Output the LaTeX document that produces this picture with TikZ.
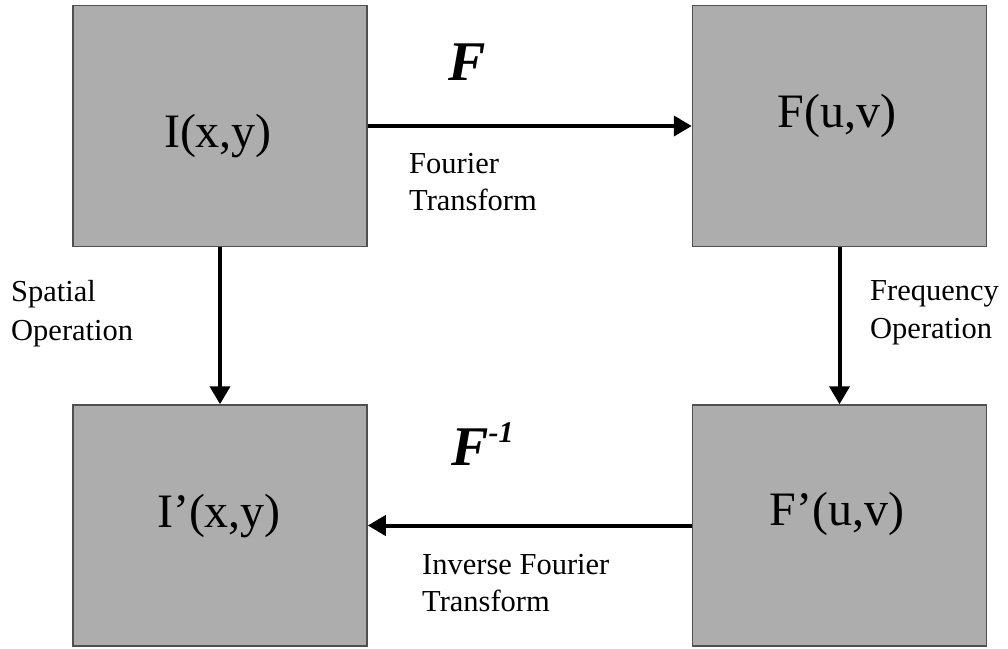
\documentclass[tikz,border=0pt]{standalone}
\usepackage{fontspec}
\setmainfont{Liberation Serif}
\usetikzlibrary{arrows.meta}
\definecolor{boxfill}{HTML}{ADADAD}
\definecolor{boxline}{HTML}{505050}
\begin{document}
\begin{tikzpicture}[x=1pt,y=-1pt,
  blk/.style={draw=boxline, line width=1.5pt, fill=boxfill, minimum width=294pt, minimum height=241pt, inner sep=0pt},
  big/.style={font=\fontsize{48}{50}\selectfont, anchor=base, inner sep=0pt},
  lbl/.style={font=\fontsize{30.5}{36}\selectfont, anchor=base west, inner sep=0pt},
  sym/.style={font=\fontsize{56}{60}\selectfont\bfseries\itshape, anchor=base west, inner sep=0pt},
  conn/.style={line width=4pt, -{Triangle[length=18pt,width=20pt]}}]
\useasboundingbox (0,0) rectangle (1008,648);
\node[blk] (I) at (220,126) {};
\node[blk] (F) at (839.5,126) {};
\node[blk] (Ip) at (220,525.5) {};
\node[blk] (Fp) at (839.5,525.5) {};
\node[big] (tI) at (218,147) {I(x,y)};
\node[big] (tF) at (837,127) {F(u,v)};
\node[big] (tIp) at (219,527) {I’(x,y)};
\node[big] (tFp) at (837,525) {F’(u,v)};
\draw[conn] (I) -- (F);
\draw[conn] (I) -- (Ip);
\draw[conn] (F) -- (Fp);
\draw[conn] (Fp) -- (Ip);
\node[sym] (sF) at (448,80) {F};
\node[sym] (sFi) at (451,465) {F\raisebox{0.4em}{\fontsize{30}{30}\selectfont -1}};
\node[lbl] (ft1) at (409,173) {Fourier};
\node[lbl] (ft2) at (409,210) {Transform};
\node[lbl] (if1) at (422,574) {Inverse Fourier};
\node[lbl] (if2) at (422,611) {Transform};
\node[lbl] (sp1) at (11,301) {Spatial};
\node[lbl] (sp2) at (11,340) {Operation};
\node[lbl] (fr1) at (870,300) {Frequency};
\node[lbl] (fr2) at (870,338) {Operation};
\end{tikzpicture}
\end{document}
